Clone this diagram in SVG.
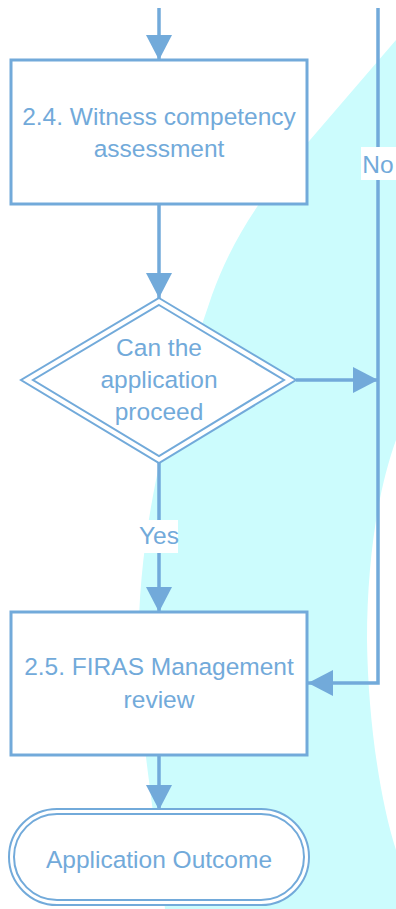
<svg xmlns="http://www.w3.org/2000/svg" width="396" height="909" viewBox="0 0 396 909">
<defs>
<style>
.box{fill:#ffffff;stroke:#72AADA;stroke-width:3}
.dbl{fill:none;stroke:#72AADA;stroke-width:2}
.edge{fill:none;stroke:#72AADA;stroke-width:3.5}
.lbl{font-family:"Liberation Sans",Arial,sans-serif;font-size:24.5px;fill:#72AADA;text-anchor:middle}
.lblbg{fill:#ffffff}
</style>
<marker id="ah" markerUnits="userSpaceOnUse" markerWidth="26" markerHeight="26" refX="25" refY="13" orient="auto">
<path d="M0,0 L25,13 L0,26 Z" fill="#72AADA"/>
</marker>
</defs>
<rect x="0" y="0" width="396" height="909" fill="#ffffff"/>
<path d="M396,40 L310,140 C258,198 230,245 212,295 C190,360 168,425 156,480 C142,550 135,620 140,700 C145,760 155,820 165,909 L396,909 L396,850 C380,800 368,720 367,640 C367,560 378,490 396,440 Z" fill="#CCFCFD"/>
<g id="connectors">
<line class="edge" x1="159" y1="8" x2="159" y2="60" marker-end="url(#ah)"/>
<line class="edge" x1="159" y1="204" x2="159" y2="298" marker-end="url(#ah)"/>
<line class="edge" x1="296" y1="380" x2="378" y2="380" marker-end="url(#ah)"/>
<polyline class="edge" points="378,8 378,683 308,683" marker-end="url(#ah)"/>
<line class="edge" x1="159" y1="463" x2="159" y2="612" marker-end="url(#ah)"/>
<line class="edge" x1="159" y1="755" x2="159" y2="810" marker-end="url(#ah)"/>
<rect class="lblbg" x="361" y="147" width="35" height="33"/>
<text class="lbl" x="378" y="173">No</text>
<rect class="lblbg" x="141" y="520" width="37" height="33"/>
<text class="lbl" x="159" y="544">Yes</text>
</g>
<g id="n24">
<rect class="box" x="11" y="60" width="296" height="144"/>
<text class="lbl" x="159" y="125">2.4. Witness competency</text>
<text class="lbl" x="159" y="157">assessment</text>
</g>
<g id="decision">
<polygon points="159,298 296,380 159,463 21,380" fill="#ffffff" stroke="#72AADA" stroke-width="2"/>
<polygon class="dbl" points="159,305 284,380 159,456 33,380"/>
<text class="lbl" x="159" y="356">Can the</text>
<text class="lbl" x="159" y="388">application</text>
<text class="lbl" x="159" y="420">proceed</text>
</g>
<g id="n25">
<rect class="box" x="11" y="612" width="296" height="143"/>
<text class="lbl" x="159" y="675">2.5. FIRAS Management</text>
<text class="lbl" x="159" y="708">review</text>
</g>
<g id="outcome">
<rect x="9" y="809" width="300" height="96" rx="48" fill="#ffffff" stroke="#72AADA" stroke-width="2"/>
<rect class="dbl" x="14" y="814" width="290" height="86" rx="43"/>
<text class="lbl" x="159" y="868">Application Outcome</text>
</g>
</svg>
